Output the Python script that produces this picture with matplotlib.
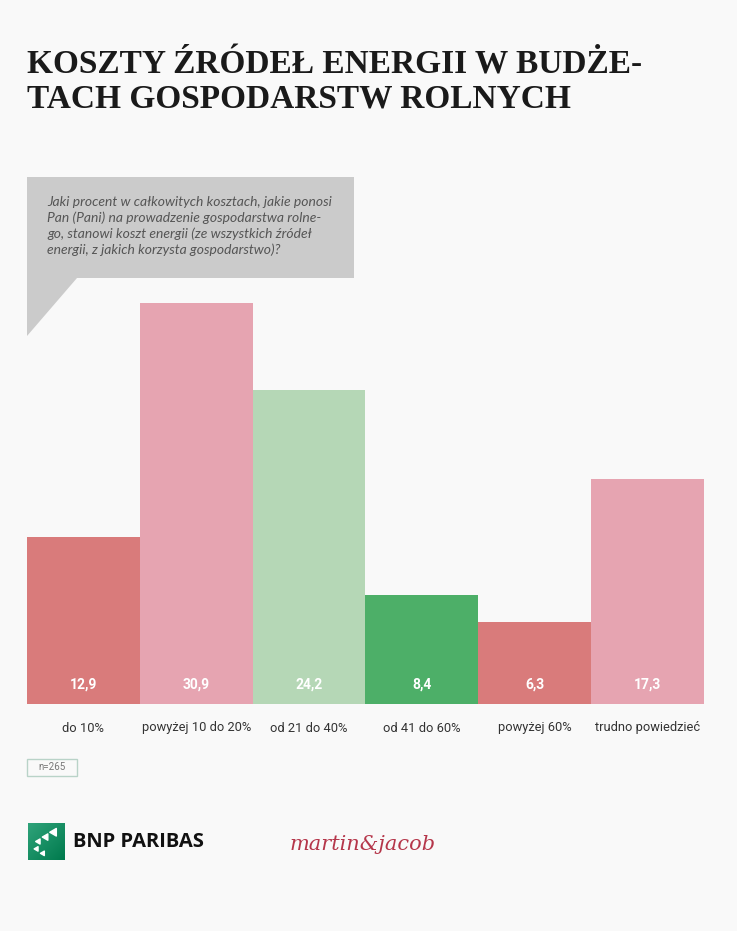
import numpy as np
import matplotlib
matplotlib.use("Agg")
import matplotlib.pyplot as plt
from matplotlib.patches import Polygon, Rectangle

# dane z wykresu
categories = ["do 10%", "powyżej 10 do 20%", "od 21 do 40%",
              "od 41 do 60%", "powyżej 60%", "trudno powiedzieć"]
values = [12.9, 30.9, 24.2, 8.4, 6.3, 17.3]
value_labels = ["12,9", "30,9", "24,2", "8,4", "6,3", "17,3"]
bar_colors = ["#D97B7B", "#E6A4B1", "#B5D7B6", "#4DAF68", "#D97B7B", "#E6A4B1"]

title_lines = ["KOSZTY ŹRÓDEŁ ENERGII W BUDŻE-", "TACH GOSPODARSTW ROLNYCH"]
question_lines = [
    "Jaki procent w całkowitych kosztach, jakie ponosi",
    "Pan (Pani) na prowadzenie gospodarstwa rolne-",
    "go, stanowi koszt energii (ze wszystkich źródeł",
    "energii, z jakich korzysta gospodarstwo)?",
]
sample_note = "n=265"

W, H = 737, 931
BG = "#F9F9F9"


def fx(px):
    return px / W


def fy(py):
    return 1 - py / H


fig = plt.figure(figsize=(W / 100, H / 100), dpi=100, facecolor=BG)

# tytuł
for i, line in enumerate(title_lines):
    fig.text(fx(27), fy(74 + i * 34), line, family="Liberation Serif",
             fontweight="bold", fontsize=24, color="#1a1a1a", va="baseline")

# dymek z pytaniem
bubble = Polygon([(fx(27), fy(177)), (fx(354), fy(177)), (fx(354), fy(278)),
                  (fx(77), fy(278)), (fx(27), fy(336))],
                 closed=True, transform=fig.transFigure, facecolor="#CBCBCB",
                 edgecolor="none", zorder=1)
fig.patches.append(bubble)
for i, line in enumerate(question_lines):
    fig.text(fx(47), fy(202 + i * 16), line, family="Lato", style="italic",
             fontsize=10, color="#555555", va="center")

# słupki
ax = fig.add_axes([fx(27), fy(704), fx(704) - fx(27), (704 - 303) / H])
ax.set_facecolor(BG)
x = np.arange(len(categories))
ax.bar(x, values, width=1.0, color=bar_colors, edgecolor="none")
ax.set_xlim(-0.5, len(categories) - 0.5)
ax.set_ylim(0, max(values))
ax.axis("off")

for i in range(len(categories)):
    ax.text(i, 19 / 401, value_labels[i], transform=ax.get_xaxis_transform(),
            ha="center", va="center", color="white", fontweight="bold",
            fontsize=10, family="Roboto")
    ax.text(i, -24 / 401, categories[i], transform=ax.get_xaxis_transform(),
            ha="center", va="center", color="#333333", fontsize=9.3,
            family="Roboto", clip_on=False)

# n=265
fig.patches.append(Rectangle((fx(27), fy(776)), fx(77) - fx(27), (776 - 759) / H,
                             transform=fig.transFigure, facecolor="none",
                             edgecolor="#B9D3C8", linewidth=1))
fig.text(fx(52), fy(767.5), sample_note, ha="center", va="center",
         fontsize=7, color="#777777", family="Roboto")

# logo BNP PARIBAS
lax = fig.add_axes([fx(27), fy(860), fx(65) - fx(27), (860 - 823) / H])
gx, gy = np.meshgrid(np.linspace(0, 1, 40), np.linspace(0, 1, 40))
lax.imshow(gx * 0.5 + gy * 0.5, cmap=matplotlib.colors.LinearSegmentedColormap.from_list(
    "bnp", ["#2FA37A", "#007A4D"]), extent=(0, 1, 0, 1), origin="upper")
lax.scatter([0.72, 0.5, 0.3, 0.25, 0.42], [0.75, 0.62, 0.5, 0.3, 0.18],
            marker=(3, 0, -30), s=[40, 28, 18, 14, 14], color="white")
lax.set_xlim(0, 1)
lax.set_ylim(0, 1)
lax.axis("off")
fig.text(fx(73), fy(842), "BNP PARIBAS", fontsize=14.5, fontweight="bold",
         family="Open Sans", color="#111111", va="center")

# martin&jacob
fig.text(fx(290), fy(845), "martin&jacob", fontsize=15, style="italic",
         family="DejaVu Serif", color="#B5364A", va="center")

fig.savefig("out.png", dpi=100, facecolor=BG)
